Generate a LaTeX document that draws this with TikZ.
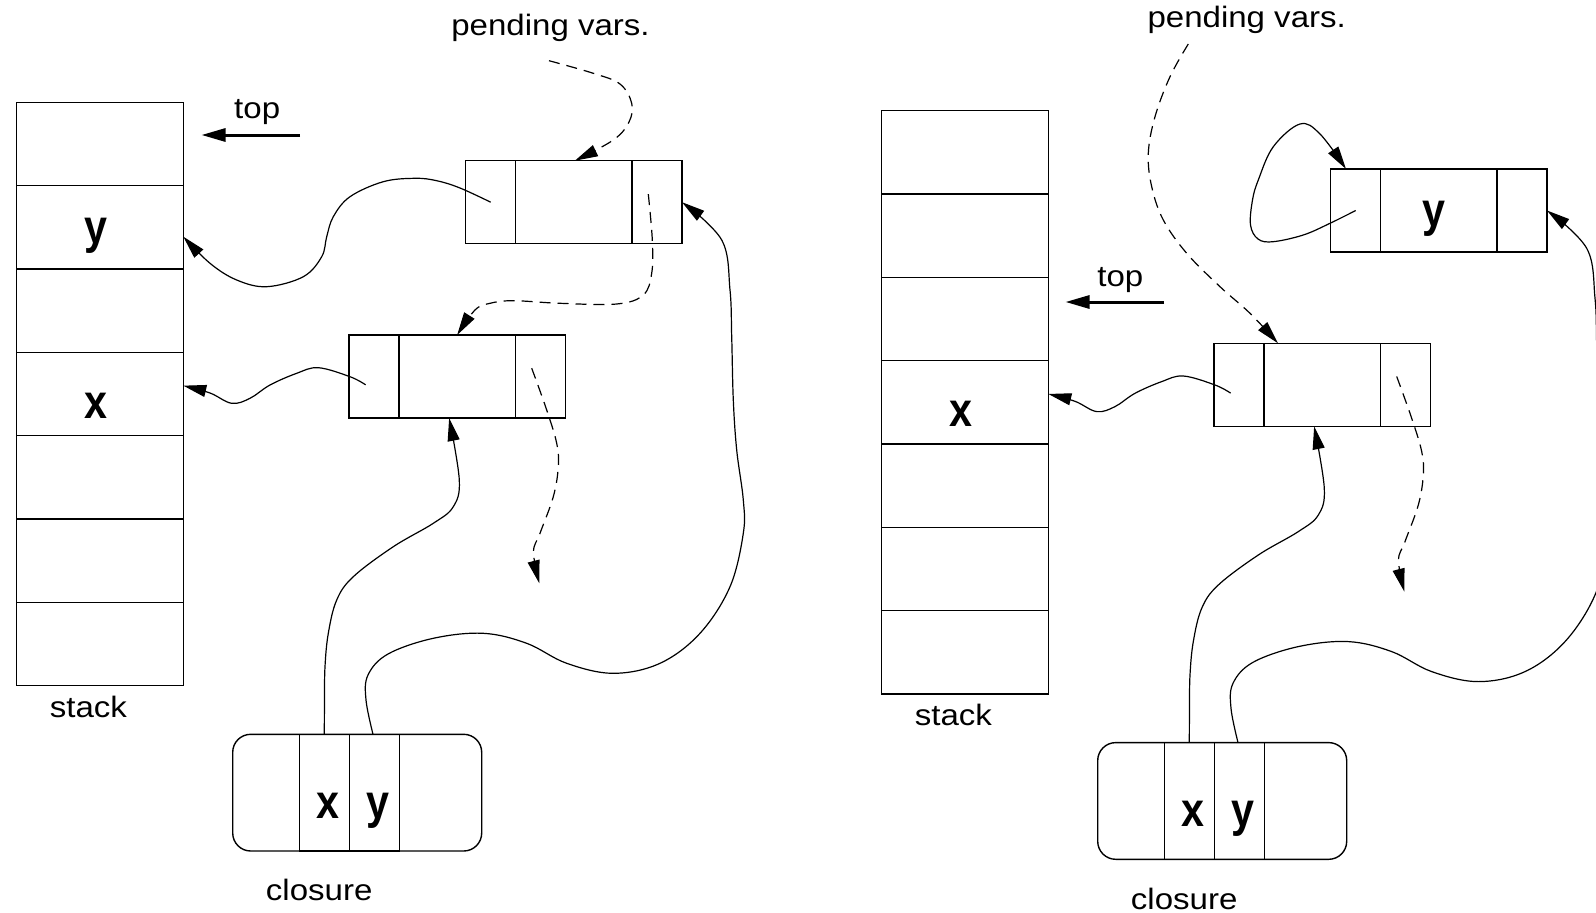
\documentclass[tikz,border=0pt]{standalone}
\usepackage{fontspec}
\setmainfont{Liberation Sans}
\newfontfamily\labelfont[FakeStretch=1.12]{Liberation Sans}
\newfontfamily\varfont[FakeStretch=0.86]{Liberation Sans}
\usetikzlibrary{arrows.meta}

\tikzset{
  stackcell/.style={draw, line width=1.4pt, minimum width=167pt, minimum height=83.3pt,
    inner sep=0pt, outer sep=0pt},
  slot/.style={draw, line width=1.4pt, minimum height=83pt, inner sep=0pt, outer sep=0pt},
  closurebox/.style={draw, line width=1.4pt, rounded corners=18pt, minimum width=249pt,
    minimum height=116.7pt, inner sep=0pt, outer sep=0pt},
  closurecell/.style={draw, line width=1.4pt, minimum width=50pt, minimum height=116.7pt,
    inner sep=0pt, outer sep=0pt},
  txt/.style={font=\labelfont\fontsize{29.5pt}{30pt}\selectfont, anchor=base, inner sep=0pt},
  var/.style={font=\varfont\bfseries\fontsize{48pt}{48pt}\selectfont, anchor=base, inner sep=0pt},
  link/.style={line width=1.2pt, line join=round, -{Triangle[length=23pt,width=12pt]}},
  pendinglink/.style={link, dash pattern=on 11pt off 7pt},
  toparrow/.style={line width=3pt, -{Triangle[length=24pt,width=13pt]}},
}

% One snapshot: stack, two frames, the closure and the links they share
\newcommand\heappanel[1]{%
  % stack of seven slots
  \node[stackcell, anchor=north west] (#1s1) at (16.3,102.4) {};
  \foreach \i [count=\j from 2] in {1,...,6} {
    \node[stackcell, anchor=north] (#1s\j) at (#1s\i.south) {};
  }
  \node[var] (#1xlabel) at (95.6,418.3) {x};
  \node[txt] (#1stacklabel) at (88.4,717.3) {stack};
  % upper frame
  \node[slot, minimum width=50pt, anchor=north west] (#1ubl) at (465.7,160.7) {};
  \node[slot, minimum width=116.3pt, anchor=west] (#1ubm) at (#1ubl.east) {};
  \node[slot, minimum width=50pt, anchor=west] (#1ubr) at (#1ubm.east) {};
  % lower frame
  \node[slot, minimum width=50pt, anchor=north west] (#1lbl) at (349,335) {};
  \node[slot, minimum width=116.3pt, anchor=west] (#1lbm) at (#1lbl.east) {};
  \node[slot, minimum width=50pt, anchor=west] (#1lbr) at (#1lbm.east) {};
  % closure record
  \node[closurebox, anchor=north west] (#1c) at (232.7,734.3) {};
  \node[closurecell, anchor=north west] (#1cx) at (299.3,734.3) {};
  \node[closurecell, anchor=north west] (#1cy) at (#1cx.north east) {};
  \node[var] (#1cxlabel) at (327.7,818.3) {x};
  \node[var] (#1cylabel) at (377.7,818.3) {y};
  \node[txt] (#1closurelabel) at (319.2,900.7) {closure};
  % lower frame -> stack slot of x
  \draw[link] plot[smooth, tension=0.6] coordinates {
    ([xshift=-8.4pt,yshift=-8.3pt]#1lbl.center) (350,376.7) (318.3,367.7) (296.7,373.3)
    (270,385) (250,398.3) (231.7,403.3) (210,393) ([yshift=8.3pt]#1s4.east)};
  % pending link out of the lower frame
  \coordinate (#1eend) at (539.3,583.3);
  \draw[pendinglink] plot[smooth, tension=0.6] coordinates {
    ([xshift=-8.6pt,yshift=8.3pt]#1lbr.center) (546.7,410) (556.7,443.3) (558.3,466.7)
    (553.3,496.7) (540,533.3) (533.5,552) (#1eend)};
  % closure slot x -> lower frame
  \draw[link] plot[smooth, tension=0.6] coordinates {
    (#1cx.north) (324.5,700) (325,666.7) (328.3,633.3) (336.7,600) (353.3,576.7)
    (393.3,546.7) (433.3,523.3) (453.3,506.7) (459.3,480) ([xshift=-8pt]#1lbm.south)};
  % closure slot y -> upper frame
  \draw[link] plot[smooth, tension=0.6] coordinates {
    ([xshift=-1.3pt]#1cy.north) (366,700) (368,675) (388,654) (433.3,638.3)
    (483.3,633.3) (526.7,643.3) (566.7,663.3) (613.3,673.3) (660,663.3) (700,633.3)
    (730,586.7) (743.3,533.3) (743.3,500) (736.7,450) (733.3,400) (731.7,336.7)
    (730,290) (721.7,240) (#1ubr.east)};
}

\begin{document}
\begin{tikzpicture}[x=1pt,y=-1pt]
\useasboundingbox (0,0) rectangle (1596,913);
\clip (0,0) rectangle (1596,913);

% ---------------- first snapshot ----------------
\heappanel{L}
\node[var] (Lylabel) at (96,243) {y};
\node[txt] (Ltop) at (257.2,118.3) {top};
\coordinate (Ltopfrom) at (300,135);
\coordinate (Ltopto) at (201.5,135);
\draw[toparrow] (Ltopfrom) -- (Ltopto);
\node[txt] (Lpending) at (550.5,35) {pending vars.};
\coordinate (Lpvstart) at (549,60.7);
% pending list: label -> upper frame -> lower frame
\draw[pendinglink] plot[smooth, tension=0.6] coordinates {
  (Lpvstart) (593.3,73.3) (620,84) (631.7,103.3) (629,122) (613.3,140)
  ([xshift=1pt]Lubm.north)};
\draw[pendinglink] plot[smooth, tension=0.6] coordinates {
  ([xshift=-8.7pt,yshift=8.1pt]Lubr.center) (652.3,240) (651.7,273.3) (643.3,295)
  (616.7,304) (560,303.3) (513.3,300.7) (490,303.3) (475,310) (Llbm.north)};
% upper frame -> stack slot of y
\draw[link] plot[smooth, tension=0.6] coordinates {
  (Lubl.center) (460,188) (436.7,180.7) (415,178.3) (383.3,181.7) (350,196.7)
  (333.3,216.7) (326.7,236.7) (321.7,256.7) (303.3,276.7) (266.7,286.7)
  (236.7,280) (210,263.3) ([yshift=-9.3pt]Ls2.east)};

% ---------------- second snapshot ----------------
\begin{scope}[shift={(865,8.3)}]
  \heappanel{R}
\end{scope}
\node[var] (Rylabel) at (1434,226.7) {y};
\node[txt] (Rtop) at (1120.3,286) {top};
\coordinate (Rtopfrom) at (1164,302);
\coordinate (Rtopto) at (1065.5,302);
\draw[toparrow] (Rtopfrom) -- (Rtopto);
\node[txt] (Rpending) at (1246.7,27) {pending vars.};
\coordinate (Rpvstart) at (1188.3,44);
% pending list now starts at the lower frame
\draw[pendinglink] plot[smooth, tension=0.6] coordinates {
  (Rpvstart) (1170,76.7) (1155,116.7) (1148.3,153.3) (1151.7,186.7) (1163.3,220)
  (1186.7,253.3) (1220,286.7) (1250,313.3) ([xshift=14pt]Rlbm.north west)};
% upper frame refers to itself
\draw[link] plot[smooth, tension=0.6] coordinates {
  (Rubl.center) (1330,223.3) (1303.3,235) (1273,241.7) (1258,239) (1250.5,225)
  (1252.5,200) (1258.3,180) (1273.3,146.7) (1300,124) (1320,134)
  ([xshift=-9.7pt]Rubl.north)};
\end{tikzpicture}
\end{document}
